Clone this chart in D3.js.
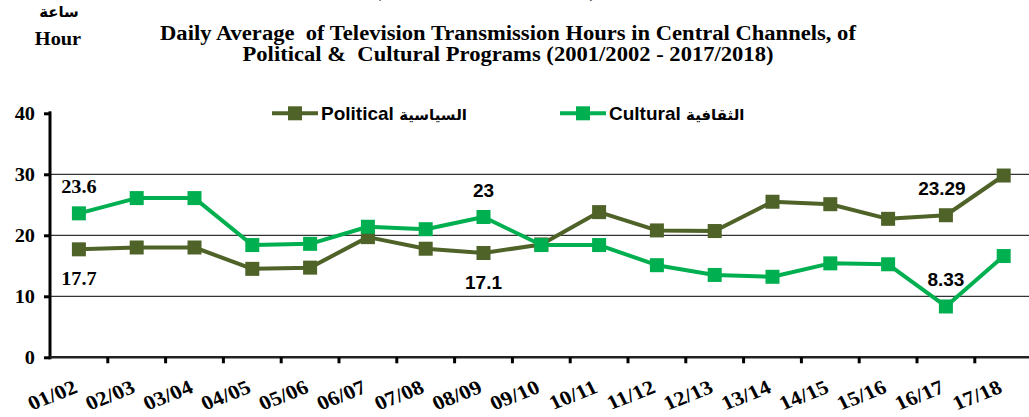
<!DOCTYPE html>
<html>
<head>
<meta charset="utf-8">
<script src="https://cdn.jsdelivr.net/npm/d3@7"></script>
<style>
  body { margin: 0; background: #fff; }
  svg { display: block; }
  .serif { font-family: "Liberation Serif", "Times New Roman", serif; font-weight: bold; }
  .sans { font-family: "Liberation Sans", Arial, "DejaVu Sans", sans-serif; font-weight: bold; }
</style>
</head>
<body>
<svg id="chart" width="1029" height="417"></svg>
<script>
// categories (school years)
var categories = ["01/02", "02/03", "03/04", "04/05", "05/06", "06/07", "07/08", "08/09", "09/10",
                  "10/11", "11/12", "12/13", "13/14", "14/15", "15/16", "16/17", "17/18"];

// daily average hours
var political = [17.7, 18.0, 18.0, 14.5, 14.7, 19.7, 17.8, 17.1, 18.5,
                 23.8, 20.8, 20.7, 25.5, 25.1, 22.7, 23.29, 29.8];
var cultural  = [23.6, 26.1, 26.1, 18.4, 18.6, 21.4, 21.0, 23.0, 18.4,
                 18.4, 15.1, 13.5, 13.2, 15.4, 15.25, 8.33, 16.6];

var yTicks = [0, 10, 20, 30, 40];

// labels shown on the chart: [category, series, text, where]
var valueLabels = [
    ["01/02", "cultural", "23.6", "above"],
    ["01/02", "political", "17.7", "below"],
    ["08/09", "cultural", "23", "above"],
    ["08/09", "political", "17.1", "below"],
    ["16/17", "political", "23.29", "above"],
    ["16/17", "cultural", "8.33", "above"]
];

var series = [
    { key: "political", name: "Political", ar: "السياسية", values: political, color: "#4f6228" },
    { key: "cultural", name: "Cultural", ar: "الثقافية", values: cultural, color: "#00b050" }
];

var svg = d3.select("#chart");
var plotLeft = 50, bandW = 57.8, plotTop = 113.3, plotBottom = 357.3;
var stretch = "scale(1.13,1)"; // the serif text in the picture is drawn wide
var serifFont = '"Liberation Serif", "Times New Roman", serif';

var x = d3.scaleBand().domain(categories).range([plotLeft, plotLeft + bandW * categories.length]);
var y = d3.scaleLinear().domain([0, 40]).range([plotBottom, plotTop]);

function serifText(px, py, size, str, anchor) {
    return svg.append("text").attr("class", "serif")
        .attr("transform", "translate(" + px + "," + py + ") " + stretch)
        .attr("text-anchor", anchor || "middle")
        .attr("xml:space", "preserve")
        .style("font-size", size + "px")
        .text(str);
}

// title
serifText(508, 40, 20, "Daily Average  of Television Transmission Hours in Central Channels, of");
serifText(508, 61, 20, "Political &  Cultural Programs (2001/2002 - 2017/2018)");
// line cut off at the top edge
serifText(378, -3, 18, "(");
serifText(593, -3, 18, ")");

// unit
svg.append("text").attr("class", "sans").attr("x", 59).attr("y", 17)
    .attr("text-anchor", "middle").style("font-size", "15px").text("ساعة");
serifText(58, 45, 18, "Hour");

// grid lines
svg.append("g").selectAll("line")
    .data(yTicks.filter(function (d) { return d > 0 && d < 40; }))
    .enter().append("line")
    .attr("x1", plotLeft).attr("x2", 1029)
    .attr("y1", function (d) { return y(d); })
    .attr("y2", function (d) { return y(d); })
    .attr("stroke", "#000").attr("stroke-width", 1);

// y axis
var yAxis = svg.append("g").attr("transform", "translate(" + plotLeft + ",0)")
    .call(d3.axisLeft(y).tickValues(yTicks).tickSize(6));
yAxis.attr("font-family", null).attr("font-size", null);
yAxis.select(".domain").attr("stroke", "#000").attr("stroke-width", 3)
    .attr("d", "M0," + (plotTop - 2) + "V" + (plotBottom + 2));
yAxis.selectAll(".tick line").attr("stroke-width", 3);
yAxis.selectAll(".tick text")
    .style("font-family", serifFont).style("font-weight", "bold")
    .style("font-size", "18px").attr("fill", "#000")
    .attr("x", null).attr("dy", null)
    .attr("transform", "translate(-15,6) " + stretch);

// x axis line and boundary ticks
svg.append("line").attr("x1", plotLeft).attr("x2", 1029)
    .attr("y1", plotBottom).attr("y2", plotBottom)
    .attr("stroke", "#222").attr("stroke-width", 2.5);
svg.append("g").selectAll("line")
    .data(categories.slice(1))
    .enter().append("line")
    .attr("x1", function (d) { return x(d); })
    .attr("x2", function (d) { return x(d); })
    .attr("y1", plotBottom).attr("y2", plotBottom + 6)
    .attr("stroke", "#000").attr("stroke-width", 3);

svg.append("g").selectAll("text")
    .data(categories)
    .enter().append("text")
    .attr("class", "serif")
    .attr("text-anchor", "end")
    .style("font-size", "20px")
    .attr("transform", function (d) {
        return "translate(" + (x(d) + x.bandwidth() / 2) + ",392) " + stretch + " rotate(-24)";
    })
    .text(function (d) { return d; });

// lines and markers
var line = d3.line()
    .x(function (d, i) { return x(categories[i]) + x.bandwidth() / 2; })
    .y(function (d) { return y(d); });

var ms = 14;
series.forEach(function (s) {
    svg.append("path").datum(s.values)
        .attr("d", line)
        .attr("fill", "none")
        .attr("stroke", s.color)
        .attr("stroke-width", 4)
        .attr("stroke-linejoin", "round");
    svg.append("g").selectAll("rect")
        .data(s.values)
        .enter().append("rect")
        .attr("x", function (d, i) { return x(categories[i]) + x.bandwidth() / 2 - ms / 2; })
        .attr("y", function (d) { return y(d) - ms / 2; })
        .attr("width", ms).attr("height", ms)
        .attr("fill", s.color);
});

// value labels
svg.append("g").selectAll("text")
    .data(valueLabels)
    .enter().append("text")
    .attr("class", function (d) { return d[0] === categories[0] ? "serif" : "sans"; })
    .attr("text-anchor", "middle")
    .style("font-size", function (d) { return d[0] === categories[0] ? "18px" : "19px"; })
    .attr("transform", function (d) {
        var s = series.find(function (e) { return e.key === d[1]; });
        var v = s.values[categories.indexOf(d[0])];
        var cx = x(d[0]) + x.bandwidth() / 2;
        if (d[2] === "23.29") cx -= 4;
        var cy = d[3] === "above" ? y(v) - 20 : y(v) + 36;
        return "translate(" + cx + "," + cy + ")" + (d[0] === categories[0] ? " " + stretch : "");
    })
    .text(function (d) { return d[2]; });

// legend
var legendX = [272, 560];
series.forEach(function (s, i) {
    var g = svg.append("g").attr("transform", "translate(" + legendX[i] + ",113.3)");
    g.append("line").attr("x1", 0).attr("x2", 46)
        .attr("stroke", s.color).attr("stroke-width", 4);
    g.append("rect").attr("x", 23 - ms / 2).attr("y", -ms / 2)
        .attr("width", ms).attr("height", ms).attr("fill", s.color);
    var t = g.append("text").attr("class", "sans").attr("x", 49).attr("y", 6.5)
        .style("font-size", "19px");
    t.append("tspan").text(s.name + " ");
    t.append("tspan").style("font-size", "15px").text(s.ar);
});
</script>
</body>
</html>
